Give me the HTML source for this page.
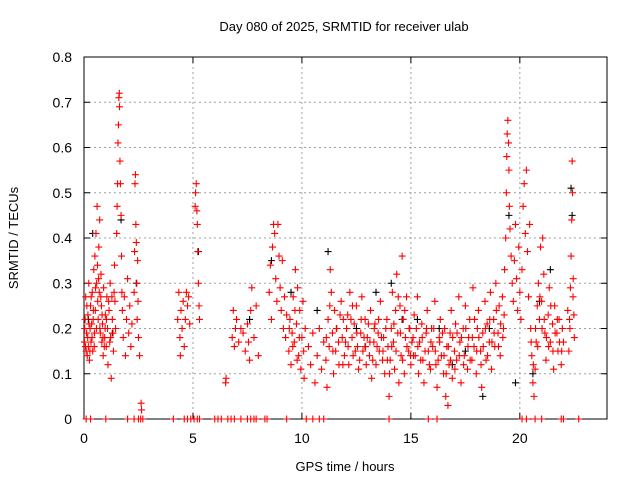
<!DOCTYPE html>
<html><head><meta charset="utf-8"><style>
body{margin:0;background:#fff}
svg{display:block;font-family:"Liberation Sans",sans-serif}
</style></head><body>
<svg id="chart" width="640" height="480">
<rect width="640" height="480" fill="#fff"/>
<text x="344" y="31" font-size="13" text-anchor="middle" fill="#000">Day 080 of 2025, SRMTID for receiver ulab</text>
<text x="345" y="471" font-size="13" text-anchor="middle">GPS time / hours</text>
<text x="18" y="238" font-size="13" text-anchor="middle" transform="rotate(-90 18 238)">SRMTID / TECUs</text>
<g id="grid"></g><g id="axes"></g><g id="marks"></g>
</svg>
<script>
const xTicks=[0,5,10,15,20];
const yTicks=[0,0.1,0.2,0.3,0.4,0.5,0.6,0.7,0.8];
const yTickLabels=["0","0.1","0.2","0.3","0.4","0.5","0.6","0.7","0.8"];
const redHours=[0.02,0.05,0.08,0.1,0.12,0.15,0.18,0.2,0.22,0.25,0.28,0.3,0.32,0.35,0.38,0.4,0.42,0.45,0.48,
0.5,0.52,0.55,0.58,0.6,0.62,0.65,0.68,0.7,0.72,0.75,0.78,0.8,0.82,0.85,0.88,0.9,0.95,0.98,
1.02,1.05,1.08,1.1,1.15,1.2,1.22,1.25,1.28,1.3,1.35,1.4,1.42,1.45,
1.5,1.52,1.54,1.56,1.58,1.6,1.62,1.63,1.65,1.67,1.7,1.72,1.74,1.76,
1.8,1.85,1.9,1.95,2.0,2.05,2.1,2.15,2.2,
2.3,2.32,2.34,2.36,2.38,2.4,2.42,2.44,2.46,2.48,2.5,2.55,2.62,2.64,
4.3,4.35,4.4,4.42,4.45,4.5,4.55,4.6,4.65,4.7,4.75,4.8,4.85,
5.1,5.12,5.15,5.18,5.2,5.22,5.25,5.28,5.3,6.5,6.52,
6.8,6.85,6.9,6.95,7.0,7.1,7.2,7.3,7.4,7.5,7.55,7.6,7.65,7.7,7.8,7.9,8.0,
8.5,8.55,8.6,8.65,8.7,8.75,8.8,8.85,8.9,8.95,9.0,9.05,9.1,9.15,9.2,9.25,9.3,
9.4,9.45,9.5,9.55,9.6,9.65,9.7,9.75,9.8,9.85,9.9,9.95,10.0,10.05,10.1,10.15,
10.3,10.4,10.5,10.6,10.7,10.8,10.9,11.0,
11.1,11.15,11.2,11.25,11.3,11.35,11.4,11.45,11.5,11.55,11.6,11.7,11.8,11.85,11.9,11.95,
12.0,12.1,12.15,12.2,12.3,12.35,12.4,12.5,12.55,12.6,12.7,12.75,12.8,12.9,12.95,13.0,13.1,13.15,13.2,13.3,13.35,13.4,13.5,13.55,13.6,13.7,13.75,13.8,13.9,13.95,14.0,14.05,14.1,14.15,14.2,14.25,14.3,14.35,14.4,14.45,14.5,14.55,14.6,14.65,14.7,14.75,14.8,14.9,14.95,
15.0,15.1,15.15,15.2,15.3,15.35,15.4,15.5,15.55,15.6,15.7,15.75,15.8,15.9,15.95,16.0,16.1,16.15,16.2,16.3,16.35,16.4,16.5,16.55,16.6,16.65,16.7,16.75,16.8,16.85,16.9,17.0,17.05,17.1,17.2,17.25,17.3,17.4,17.45,17.5,17.6,17.65,17.7,17.8,17.85,17.9,18.0,18.05,18.1,18.2,18.25,18.3,18.4,18.45,18.5,18.6,18.65,18.7,18.8,18.85,18.9,19.0,19.05,19.1,19.2,19.25,
19.3,19.35,19.38,19.4,19.42,19.45,19.48,19.5,19.52,19.55,19.6,19.65,
19.7,19.75,19.8,19.85,19.9,19.95,20.0,20.05,20.1,20.15,20.2,20.25,20.3,20.35,20.4,20.45,
20.5,20.55,20.6,20.65,20.7,20.75,20.8,20.85,20.9,20.95,
21.0,21.05,21.1,21.15,21.2,21.3,21.35,21.4,21.5,21.55,21.6,21.7,21.75,21.8,21.9,21.95,22.0,
22.2,22.25,22.3,22.32,22.35,22.38,22.4,22.42,22.45,22.48,22.5];
const redTec=[.17,.22,.27,.15,.19,.14,.23,.16,.3,.13,.2,.25,.17,.21,.28,.15,.22,.33,.19,
.36,.24,.41,.3,.47,.34,.22,.38,.28,.44,.19,.32,.25,.17,.21,.14,.29,.18,.23,
.16,.27,.2,.12,.24,.3,.18,.09,.27,.22,.15,.34,.26,.2,
.41,.47,.52,.61,.65,.71,.72,.69,.57,.52,.45,.36,.28,.24,
.18,.27,.14,.22,.31,.19,.25,.16,.21,
.28,.37,.52,.54,.43,.39,.3,.22,.35,.26,.18,.14,.035,.02,
.22,.28,.18,.14,.24,.2,.26,.16,.22,.28,.25,.27,.21,
.47,.5,.52,.46,.43,.37,.3,.25,.22,.08,.09,
.18,.24,.16,.2,.22,.17,.2,.19,.15,.21,.17,.13,.24,.29,.18,.25,.14,
.28,.34,.22,.38,.43,.41,.31,.26,.43,.36,.29,.24,.35,.2,.27,.18,.23,
.15,.22,.12,.19,.27,.17,.33,.21,.29,.14,.24,.11,.18,.26,.09,.2,
.16,.12,.19,.08,.14,.2,.11,.17,
.13,.07,.22,.16,.33,.28,.19,.1,.24,.15,.2,.12,.26,.18,.22,.14,
.17,.23,.12,.28,.18,.14,.21,.25,.16,.11,.19,.27,.15,.22,.12,.18,.14,.24,.09,.17,.21,.12,.19,.15,.26,.13,.18,.1,.22,.16,.05,.13,.2,.28,.17,.11,.24,.32,.19,.08,.25,.14,.36,.22,.1,.18,.27,.15,.2,
.12,.18,.23,.14,.27,.1,.17,.21,.13,.08,.19,.24,.15,.11,.2,.16,.26,.12,.07,.18,.22,.14,.1,.2,.05,.16,.03,.12,.19,.24,.09,.15,.21,.13,.27,.17,.08,.2,.14,.25,.11,.18,.22,.13,.29,.16,.1,.2,.24,.15,.07,.19,.26,.13,.21,.17,.28,.11,.22,.16,.3,.19,.25,.14,.27,.2,
.33,.4,.5,.58,.63,.66,.61,.55,.47,.42,.36,.3,
.26,.35,.43,.31,.24,.38,.28,.22,.33,.47,.52,.41,.55,.37,.27,.43,
.2,.14,.08,.05,.11,.17,.25,.3,.22,.38,
.26,.4,.32,.19,.13,.23,.29,.17,.21,.11,.25,.19,.15,.22,.12,.2,.17,
.24,.15,.2,.29,.36,.44,.57,.5,.31,.23,.18];
const redHours2=[0.03,0.07,0.13,0.17,0.23,0.27,0.33,0.37,0.43,0.47,0.53,0.57,0.63,0.67,0.73,0.77,0.83,0.87,0.93,0.97,1.03,1.13,1.18,1.33,1.38,
9.42,9.58,9.68,9.78,9.88,10.08,11.12,11.28,11.42,11.58,11.68,11.75,11.88,
12.05,12.12,12.25,12.32,12.45,12.52,12.65,12.72,12.85,12.92,13.05,13.12,13.25,13.32,13.45,13.52,13.65,13.72,13.85,13.92,14.02,14.12,14.22,14.32,14.42,14.52,14.62,14.72,14.82,14.92,14.98,
15.05,15.12,15.25,15.32,15.45,15.52,15.65,15.72,15.85,15.92,16.05,16.12,16.25,16.32,16.45,16.52,16.62,16.72,16.82,16.92,17.02,17.12,17.22,17.32,17.42,17.52,17.62,17.72,17.82,17.92,18.02,18.12,18.22,18.32,18.42,18.52,18.62,18.72,18.82,18.92,19.02,19.12,19.22,19.28,
20.52,20.62,20.72,20.82,20.92,21.02,21.12,21.22,21.32,21.42,21.52,21.62,21.72,21.82,21.92,22.28,22.44];
const redTec2=[.2,.16,.25,.18,.21,.15,.27,.18,.24,.16,.29,.2,.26,.31,.2,.27,.23,.18,.16,.2,.22,.26,.17,.19,.28,
.2,.16,.24,.13,.18,.15,.18,.25,.15,.2,.17,.23,.12,
.2,.16,.22,.25,.15,.19,.13,.22,.18,.16,.21,.17,.13,.2,.16,.22,.18,.15,.2,.13,.1,.16,.21,.15,.27,.19,.13,.24,.16,.2,.14,
.17,.14,.2,.16,.13,.18,.15,.2,.12,.17,.2,.15,.13,.17,.19,.14,.1,.16,.13,.18,.11,.19,.14,.18,.12,.2,.16,.13,.18,.22,.15,.18,.12,.16,.2,.14,.22,.17,.19,.24,.16,.21,.18,.23,
.17,.12,.2,.16,.27,.2,.22,.18,.16,.25,.15,.19,.22,.17,.15,.22,.27];
const blackHours=[0.4,1.7,2.4,5.25,9.5,11.2,12.5,14.1,16.3,17.5,19.5,19.8,20.6,22.35,22.4,10.7,13.4,15.3,18.3,21.4,7.6,8.6,0.2,1.3,12.9,14.6,16.9,18.6,20.9];
const blackTec=[.41,.44,.3,.37,.28,.37,.2,.3,.2,.15,.45,.08,.1,.51,.45,.24,.28,.22,.05,.33,.22,.35,.22,.19,.16,.22,.12,.2,.26];
const zeroHours=[0.1,0.3,1.0,2.0,2.3,2.5,2.6,2.7,4.1,4.6,4.75,4.9,5.05,5.2,5.3,6.0,6.15,6.3,6.6,6.75,6.9,7.2,7.5,7.65,7.8,7.9,8.3,8.4,9.3,10.2,10.5,10.8,11.0,14.0,15.8,16.2,20.1,20.3,20.7,21.0,21.9,22.0,22.7];
const NS='http://www.w3.org/2000/svg';
const L=84,R=607,T=57,B=419;
const sx=h=>L+(R-L)*h/24;
const sy=v=>B-(B-T)*v/0.8;
function mk(tag,a,p){const e=document.createElementNS(NS,tag);for(const k in a)e.setAttribute(k,a[k]);p.appendChild(e);return e;}
const grid=document.getElementById('grid'),axes=document.getElementById('axes'),marks=document.getElementById('marks');
yTicks.forEach((v,i)=>{
 if(i>0&&i<yTicks.length-1){const g=mk('line',{x1:L,x2:R,y1:sy(v),y2:sy(v),stroke:'#a0a0a0','stroke-dasharray':'2,3'},grid);
 
 }
 mk('line',{x1:L,x2:L+6,y1:sy(v),y2:sy(v),stroke:'#000'},axes);
 mk('line',{x1:R,x2:R-6,y1:sy(v),y2:sy(v),stroke:'#000'},axes);
 const t=mk('text',{x:L-12,y:sy(v)+5,'font-size':14,'text-anchor':'end'},axes);t.textContent=yTickLabels[i];
 
 
});
xTicks.forEach(h=>{
 if(h>0){const g=mk('line',{x1:sx(h),x2:sx(h),y1:T,y2:B,stroke:'#a0a0a0','stroke-dasharray':'2,3'},grid);
 
 }
 mk('line',{x1:sx(h),x2:sx(h),y1:B,y2:B-6,stroke:'#000'},axes);
 mk('line',{x1:sx(h),x2:sx(h),y1:T,y2:T+6,stroke:'#000'},axes);
 const t=mk('text',{x:sx(h),y:B+24,'font-size':14,'text-anchor':'middle'},axes);t.textContent=String(h);
 
 
});
const frame=mk('rect',{x:L,y:T,width:R-L,height:B-T,fill:'none',stroke:'#000'},axes);


function plus(h,v,c,name){
 const x=sx(h),y=sy(v);
 const p=mk('path',{d:`M${x-3.5},${y}H${x+3.5}M${x},${y-3.5}V${y+3.5}`,stroke:c,'stroke-width':1.1,fill:'none'},marks);
 
 
}
blackHours.forEach((h,i)=>plus(h,blackTec[i],'#000','black-point'));
redHours.forEach((h,i)=>plus(h,redTec[i],'#ff0000','red-point'));
redHours2.forEach((h,i)=>plus(h,redTec2[i],'#ff0000','red-point'));
zeroHours.forEach(h=>plus(h,0,'#ff0000','zero-point'));
</script>
</body></html>
